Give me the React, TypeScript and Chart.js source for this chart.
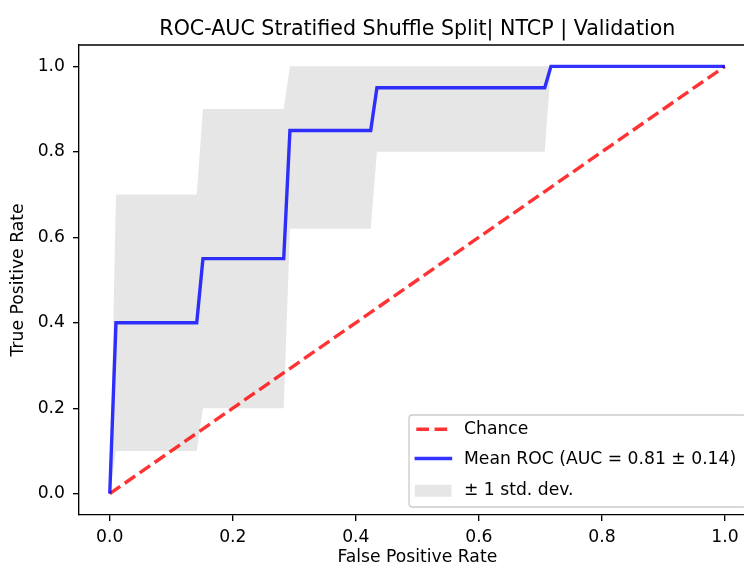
import React, { useEffect, useRef } from "react";
import { Chart, registerables } from "chart.js";

Chart.register(...registerables);

// ---- data ----
const chartTitle = "ROC-AUC Stratified Shuffle Split| NTCP | Validation";
const xAxisTitle = "False Positive Rate";
const yAxisTitle = "True Positive Rate";

const fprGrid = [0, 0.0101, 0.1414, 0.1515, 0.2828, 0.2929, 0.4242, 0.4343, 0.7071, 0.7172, 1.0];
const meanTpr = [0, 0.40, 0.40, 0.55, 0.55, 0.85, 0.85, 0.95, 0.95, 1.0, 1.0];
const upperTpr = [0, 0.70, 0.70, 0.90, 0.90, 1.0, 1.0, 1.0, 1.0, 1.0, 1.0];
const lowerTpr = [0, 0.10, 0.10, 0.20, 0.20, 0.62, 0.62, 0.80, 0.80, 1.0, 1.0];

const chanceX = [0, 1];
const chanceY = [0, 1];

const tickValues = [0.0, 0.2, 0.4, 0.6, 0.8, 1.0];

const legendLabels = ["Chance", "Mean ROC (AUC = 0.81 \u00b1 0.14)", "\u00b1 1 std. dev."];

// axes limits (the original x axis runs to 1.05, but the picture is cropped at ~1.03)
const X_MIN = -0.05;
const X_FULL_MAX = 1.05;
const X_VISIBLE_MAX = 1.031;
const Y_MIN = -0.05;
const Y_MAX = 1.05;

// ---- styles ----
const FONT = "'DejaVu Sans', 'Liberation Sans', sans-serif";
const FS = 17.2;
const BLUE = "rgba(0,0,255,0.8)";
const RED = "rgba(255,0,0,0.8)";
const GREY = "rgba(128,128,128,0.2)";
const LW = 3.4;
const DASH = [12.7, 5.5];

const toPts = (xs: number[], ys: number[]) => xs.map((x, i) => ({ x, y: ys[i] }));

const decorPlugin = {
  id: "decor",
  afterDraw(chart: any) {
    const { ctx, chartArea } = chart;
    const { left, top } = chartArea;
    const fullRight = chart.scales.x.getPixelForValue(X_FULL_MAX);
    ctx.save();
    // top spine (right spine is outside the cropped picture)
    ctx.strokeStyle = "#000";
    ctx.lineWidth = 1.35;
    ctx.beginPath();
    ctx.moveTo(left, top);
    ctx.lineTo(fullRight, top);
    ctx.stroke();
    // title
    ctx.fillStyle = "#000";
    ctx.font = `20.6px ${FONT}`;
    ctx.textAlign = "center";
    ctx.textBaseline = "alphabetic";
    ctx.fillText(chartTitle, (left + fullRight) / 2, top - 10);

    // legend
    const bx = 409, by = 415, bw = 337, bh = 92, r = 3.4;
    ctx.beginPath();
    ctx.moveTo(bx + r, by);
    ctx.lineTo(bx + bw - r, by);
    ctx.arcTo(bx + bw, by, bx + bw, by + r, r);
    ctx.lineTo(bx + bw, by + bh - r);
    ctx.arcTo(bx + bw, by + bh, bx + bw - r, by + bh, r);
    ctx.lineTo(bx + r, by + bh);
    ctx.arcTo(bx, by + bh, bx, by + bh - r, r);
    ctx.lineTo(bx, by + r);
    ctx.arcTo(bx, by, bx + r, by, r);
    ctx.closePath();
    ctx.fillStyle = "rgba(255,255,255,0.8)";
    ctx.fill();
    ctx.strokeStyle = "#cccccc";
    ctx.lineWidth = 1.35;
    ctx.stroke();

    const hx0 = 416.3, hx1 = 450.5;
    const rows = [429.3, 458.5, 490.8];
    // chance handle
    ctx.strokeStyle = RED;
    ctx.lineWidth = LW;
    ctx.setLineDash(DASH);
    ctx.beginPath();
    ctx.moveTo(hx0, rows[0]);
    ctx.lineTo(hx1, rows[0]);
    ctx.stroke();
    ctx.setLineDash([]);
    // mean handle
    ctx.strokeStyle = BLUE;
    ctx.lineCap = "square";
    ctx.beginPath();
    ctx.moveTo(hx0, rows[1]);
    ctx.lineTo(hx1, rows[1]);
    ctx.stroke();
    ctx.lineCap = "butt";
    // band handle
    ctx.fillStyle = GREY;
    ctx.fillRect(hx0 - 1.5, rows[2] - 6, hx1 - hx0 + 2.5, 12);

    ctx.fillStyle = "#000";
    ctx.font = `${FS}px ${FONT}`;
    ctx.textAlign = "left";
    ctx.textBaseline = "middle";
    const textRows = [429, 459, 489.5];
    legendLabels.forEach((t, i) => ctx.fillText(t, 464, textRows[i] + 1));
    ctx.restore();
  },
};

export default function App() {
  const ref = useRef<HTMLCanvasElement | null>(null);
  useEffect(() => {
    if (!ref.current) return;
    const chart = new Chart(ref.current, {
      type: "line",
      data: {
        datasets: [
          {
            label: legendLabels[1],
            data: toPts(fprGrid, meanTpr),
            borderColor: BLUE,
            borderWidth: LW,
            pointRadius: 0,
            fill: false,
            tension: 0,
          },
          {
            label: legendLabels[0],
            data: toPts(chanceX, chanceY),
            borderColor: RED,
            borderWidth: LW,
            borderDash: DASH,
            pointRadius: 0,
            fill: false,
            tension: 0,
          },
          {
            label: "lower",
            data: toPts(fprGrid, lowerTpr),
            borderColor: "transparent",
            borderWidth: 0,
            pointRadius: 0,
            fill: false,
          },
          {
            label: legendLabels[2],
            data: toPts(fprGrid, upperTpr),
            borderColor: "transparent",
            borderWidth: 0,
            pointRadius: 0,
            backgroundColor: GREY,
            fill: "-1",
          },
        ],
      },
      options: {
        animation: false,
        responsive: false,
        devicePixelRatio: 1,
        layout: { padding: { top: 45, right: 0, left: 0, bottom: 0 } },
        plugins: {
          legend: { display: false },
          tooltip: { enabled: false },
          title: { display: false },
        },
        scales: {
          x: {
            type: "linear",
            min: X_MIN,
            max: X_VISIBLE_MAX,
            afterBuildTicks: (s: any) => {
              s.ticks = tickValues.map((v) => ({ value: v }));
            },
            afterFit: (s: any) => {
              s.height = 52;
              s.paddingRight = 0;
              s.paddingLeft = 0;
            },
            ticks: {
              color: "#000",
              font: { family: FONT, size: FS },
              padding: 6,
              maxRotation: 0,
              autoSkip: false,
              callback: (v: any) => Number(v).toFixed(1),
            },
            grid: {
              display: true,
              drawOnChartArea: false,
              drawTicks: true,
              tickLength: 6,
              color: "#000",
              lineWidth: 1.35,
            },
            border: { display: true, color: "#000", width: 1.35 },
            title: {
              display: false,
            },
          },
          y: {
            type: "linear",
            min: Y_MIN,
            max: Y_MAX,
            afterBuildTicks: (s: any) => {
              s.ticks = tickValues.map((v) => ({ value: v }));
            },
            afterFit: (s: any) => {
              s.width = 79;
            },
            ticks: {
              color: "#000",
              font: { family: FONT, size: FS },
              padding: 8,
              autoSkip: false,
              callback: (v: any) => Number(v).toFixed(1),
            },
            grid: {
              display: true,
              drawOnChartArea: false,
              drawTicks: true,
              tickLength: 6,
              color: "#000",
              lineWidth: 1.35,
            },
            border: { display: true, color: "#000", width: 1.35 },
            title: {
              display: true,
              text: yAxisTitle,
              color: "#000",
              font: { family: FONT, size: FS },
              padding: { top: 8, bottom: 0 },
            },
          },
        },
      },
      plugins: [
        decorPlugin,
        {
          id: "xtitle",
          afterDraw(chart: any) {
            const { ctx, chartArea } = chart;
            const fullRight = chart.scales.x.getPixelForValue(X_FULL_MAX);
            ctx.save();
            ctx.fillStyle = "#000";
            ctx.font = `${FS}px ${FONT}`;
            ctx.textAlign = "center";
            ctx.textBaseline = "middle";
            ctx.fillText(xAxisTitle, (chartArea.left + fullRight) / 2, chartArea.bottom + 43);
            ctx.restore();
          },
        },
      ],
    });
    return () => chart.destroy();
  }, []);

  return (
    <div
      style={{
        position: "fixed",
        left: 0,
        top: 0,
        width: 744,
        height: 567,
        overflow: "hidden",
        background: "#fff",
      }}
    >
      <canvas ref={ref} width={744} height={567} style={{ display: "block", width: 744, height: 567 }} />
    </div>
  );
}
